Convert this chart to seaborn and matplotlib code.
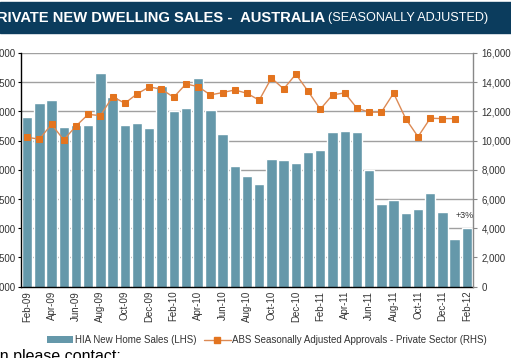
import matplotlib.pyplot as plt
import numpy as np
import seaborn as sns
from matplotlib.lines import Line2D
from matplotlib.patches import Patch, Rectangle
from matplotlib.ticker import FuncFormatter

MONTHS = [
    "Feb-09", "Mar-09", "Apr-09", "May-09", "Jun-09", "Jul-09", "Aug-09", "Sep-09",
    "Oct-09", "Nov-09", "Dec-09", "Jan-10", "Feb-10", "Mar-10", "Apr-10", "May-10",
    "Jun-10", "Jul-10", "Aug-10", "Sep-10", "Oct-10", "Nov-10", "Dec-10", "Jan-11",
    "Feb-11", "Mar-11", "Apr-11", "May-11", "Jun-11", "Jul-11", "Aug-11", "Sep-11",
    "Oct-11", "Nov-11", "Dec-11", "Jan-12", "Feb-12",
]

# HIA new home sales (left axis)
HIA_SALES = [
    5900, 6150, 6200, 5730, 5770, 5770, 6660, 6250,
    5770, 5800, 5710, 6440, 6010, 6065, 6570, 6025,
    5610, 5070, 4890, 4760, 5180, 5170, 5120, 5300,
    5340, 5650, 5670, 5650, 4990, 4420, 4490, 4260,
    4330, 4600, 4280, 3820, 4000,
]

# ABS approvals, private sector (right axis) - no Feb-12 value yet
ABS_APPROVALS = [
    10230, 10100, 11120, 10050, 11000, 11800, 11710, 13010,
    12560, 13200, 13680, 13520, 12970, 13880, 13700, 13130,
    13290, 13470, 13240, 12770, 14290, 13540, 14550, 13380,
    12150, 13130, 13270, 12220, 11950, 11950, 13250, 11490,
    10270, 11530, 11510, 11510,
]

LEFT_TICKS = list(range(3000, 7001, 500))
RIGHT_TICKS = list(range(0, 16001, 2000))

BAR_COLOR = "#6598aa"
LINE_COLOR = "#dc8a55"
MARKER_COLOR = "#e3741f"
NAVY = "#0b3c5d"
TEXT_COLOR = "#333333"

W, H = 511, 358


def fx(px):
    return px / W


def fy(py):
    return (H - py) / H


def main() -> None:
    sns.set_style("white")
    plt.rcParams["font.family"] = ["Liberation Sans Narrow", "Liberation Sans", "DejaVu Sans"]

    fig = plt.figure(figsize=(W / 100, H / 100), dpi=100)
    ax = fig.add_axes([fx(21), fy(286.7), fx(473) - fx(21), (286.7 - 53) / H])

    sns.barplot(x=MONTHS, y=HIA_SALES, color=BAR_COLOR, saturation=1, width=0.85, ax=ax)
    ax.set_ylim(LEFT_TICKS[0], LEFT_TICKS[-1])
    ax.set_xlim(-0.5, len(MONTHS) - 0.5)
    ax.set_yticks(LEFT_TICKS)
    ax.yaxis.set_major_formatter(FuncFormatter(lambda v, _: f"{v:,.0f}"))
    ax.set_axisbelow(True)
    ax.yaxis.grid(True, color="#a0a0a0", linewidth=1)
    ax.set_xlabel("")
    ax.set_ylabel("")

    ax.set_xticks(range(0, len(MONTHS), 2))
    ax.set_xticklabels(MONTHS[::2], rotation=90)
    ax.set_xticks(np.arange(-0.5, len(MONTHS) - 1, 2), minor=True)
    ax.tick_params(axis="x", which="major", length=0, pad=3, labelsize=7, labelcolor=TEXT_COLOR)
    ax.tick_params(axis="x", which="minor", length=3, width=0.8, color="black", direction="out")
    ax.tick_params(axis="y", length=2, width=0.8, pad=2, labelsize=7, labelcolor=TEXT_COLOR,
                   left=True, color="black")

    for side in ["top", "right"]:
        ax.spines[side].set_visible(False)
    for side in ["left", "bottom"]:
        ax.spines[side].set_color("black")
        ax.spines[side].set_linewidth(1)

    ax.text(35.8, 4150, "+3%", ha="center", va="bottom", fontsize=6.5, color=TEXT_COLOR)

    ax2 = ax.twinx()
    sns.lineplot(
        x=np.arange(len(ABS_APPROVALS)),
        y=ABS_APPROVALS,
        ax=ax2,
        color=LINE_COLOR,
        linewidth=1,
        marker="s",
        markersize=5,
        markerfacecolor=MARKER_COLOR,
        markeredgecolor=MARKER_COLOR,
        legend=False,
    )
    ax2.set_ylim(RIGHT_TICKS[0], RIGHT_TICKS[-1])
    ax2.set_yticks(RIGHT_TICKS)
    ax2.yaxis.set_major_formatter(FuncFormatter(lambda v, _: f"{v:,.0f}"))
    ax2.tick_params(axis="y", length=3, width=0.8, pad=3, labelsize=7, labelcolor=TEXT_COLOR,
                    right=True, color="#888888")
    for side in ["top", "left", "bottom"]:
        ax2.spines[side].set_visible(False)
    ax2.spines["right"].set_color("#888888")
    ax2.spines["right"].set_linewidth(1)

    # title banner
    fig.patches.append(Rectangle((0, fy(33)), 1, 31 / H, transform=fig.transFigure,
                                 color=NAVY, zorder=0))
    fig.text(fx(325), fy(17.5), "PRIVATE NEW DWELLING SALES -  AUSTRALIA", ha="right", va="center",
             color="white", fontsize=10.6, fontweight="bold", family=["Liberation Sans", "DejaVu Sans"])
    fig.text(fx(328), fy(17.5), "(SEASONALLY ADJUSTED)", ha="left", va="center",
             color="white", fontsize=9.1, family=["Liberation Sans", "DejaVu Sans"])

    handles = [
        Patch(facecolor=BAR_COLOR, edgecolor="none"),
        Line2D([], [], color=LINE_COLOR, linewidth=1, marker="s", markersize=4,
               markerfacecolor=MARKER_COLOR, markeredgecolor=MARKER_COLOR),
    ]
    labels = [
        "HIA New Home Sales (LHS)",
        "ABS Seasonally Adjusted Approvals - Private Sector (RHS)",
    ]
    fig.legend(handles, labels, loc="center", bbox_to_anchor=(fx(267), fy(340)), ncol=2,
               frameon=False, fontsize=7, handlelength=2.7, handleheight=0.6,
               handletextpad=0.2, columnspacing=0.8, labelcolor=TEXT_COLOR)

    fig.text(fx(121), fy(349), "For further information please contact:", ha="right", va="top",
             fontsize=11.5, color="black", family=["Liberation Sans", "DejaVu Sans"])

    fig.savefig("out.png", dpi=100)
    plt.close(fig)


if __name__ == "__main__":
    main()
